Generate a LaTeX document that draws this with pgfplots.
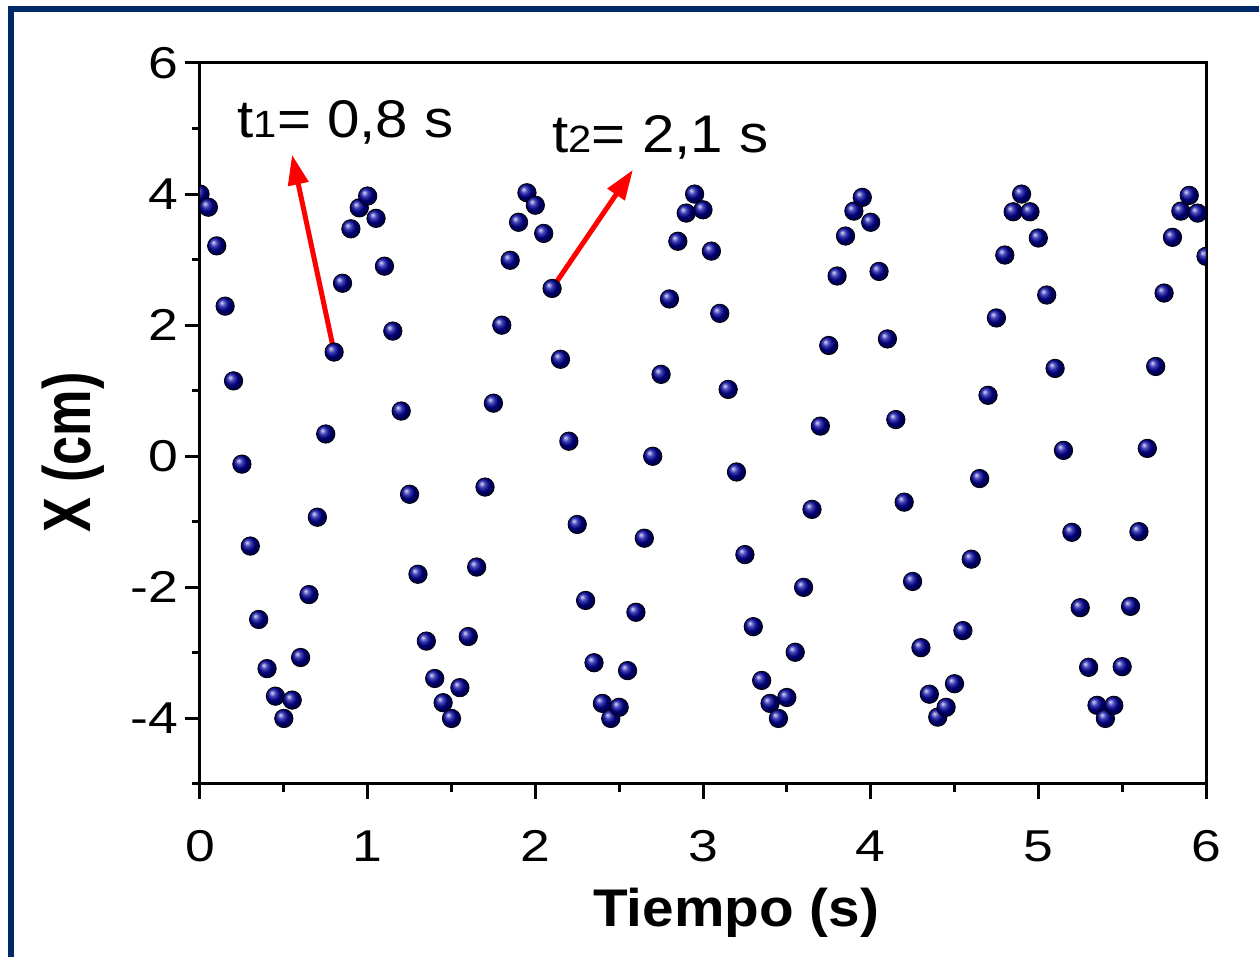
\documentclass[border=0pt]{standalone}
\usepackage{pgfplots}
\pgfplotsset{compat=1.18}
\usepackage{fontspec}
\setmainfont{Liberation Sans}
\newfontfamily\tickfont[FakeStretch=1.2]{Liberation Sans}
\newfontfamily\annfont[FakeStretch=1.1]{Liberation Sans}
\newfontfamily\xlabfont[FakeStretch=1.07]{Liberation Sans}
\newfontfamily\ylabfont[FakeStretch=0.78]{Liberation Sans}
\usetikzlibrary{arrows.meta}

\definecolor{framecol}{RGB}{0,40,104}
\definecolor{ballcol}{RGB}{0,0,160}

\begin{document}
\begin{tikzpicture}
  \useasboundingbox (0,0) rectangle (629.5pt,478.5pt);
  \draw[line width=3pt, framecol] (5.5pt,-3pt) -- (5.5pt,474pt) -- (633pt,474pt);

  \begin{axis}[
    at={(100pt,86.5pt)}, anchor=south west,
    scale only axis,
    width=503pt, height=360.5pt,
    xmin=0, xmax=6, ymin=-5, ymax=6,
    clip marker paths=true,
    axis line style={line width=1.5pt, black},
    xtick={0,1,2,3,4,5,6},
    xticklabels={0,1,2,3,4,5,6},
    ytick={-4,-2,0,2,4,6},
    yticklabels={-4,-2,0,2,4,6},
    minor xtick={0.5,1.5,2.5,3.5,4.5,5.5},
    minor ytick={-5,-3,-1,1,3,5},
    xtick pos=bottom, ytick pos=left,
    tick align=outside,
    major tick length=7.5pt, minor tick length=4pt,
    every tick/.style={line width=1.5pt, black},
    xticklabel style={font=\tickfont\fontsize{22.3}{26}\selectfont, anchor=base, yshift=-31.5pt},
    yticklabel style={font=\tickfont\fontsize{22.3}{26}\selectfont, anchor=east},
    xlabel={Tiempo (s)},
    xlabel style={font=\xlabfont\bfseries\fontsize{26.5}{30}\selectfont,
                  at={(axis description cs:0.533,-0.1983)}, anchor=base},
    ylabel={X (cm)},
    ylabel style={font=\ylabfont\bfseries\fontsize{33.5}{36}\selectfont,
                  at={(axis description cs:-0.1262,0.46)}, anchor=center, rotate=0},
  ]

    % annotations
    \draw[red, line width=2.5pt, -{Triangle[length=15pt,width=10pt]}]
      (axis cs:0.8,1.59) -- (axis cs:0.549,4.60);
    \draw[red, line width=2.5pt, -{Triangle[length=15pt,width=10pt]}]
      (axis cs:2.1,2.56) -- (axis cs:2.582,4.37);
    \node[anchor=base west, inner sep=0pt, font=\annfont\fontsize{26.5}{30}\selectfont]
      at (axis cs:0.222,4.87) {t{\fontsize{19}{22}\selectfont 1}= 0,8 s};
    \node[anchor=base west, inner sep=0pt, font=\annfont\fontsize{26.5}{30}\selectfont]
      at (axis cs:2.100,4.64) {t{\fontsize{19}{22}\selectfont 2}= 2,1 s};

    \addplot[only marks, mark=ball, mark size=4.6pt,
             mark options={ball color=ballcol}]
      coordinates {
        (0.00,4.00)(0.05,3.80)(0.10,3.21)(0.15,2.29)(0.20,1.15)
        (0.25,-0.12)(0.30,-1.37)(0.35,-2.49)(0.40,-3.24)(0.45,-3.66)
        (0.50,-4.00)(0.55,-3.72)(0.60,-3.07)(0.65,-2.11)(0.70,-0.93)
        (0.75,0.34)(0.80,1.59)(0.85,2.64)(0.90,3.47)(0.95,3.79)
        (1.00,3.97)(1.05,3.63)(1.10,2.90)(1.15,1.91)(1.20,0.69)
        (1.25,-0.58)(1.30,-1.80)(1.35,-2.82)(1.40,-3.39)(1.45,-3.76)
        (1.50,-4.00)(1.55,-3.53)(1.60,-2.75)(1.65,-1.69)(1.70,-0.47)
        (1.75,0.81)(1.80,2.00)(1.85,2.99)(1.90,3.57)(1.95,4.02)
        (2.00,3.83)(2.05,3.40)(2.10,2.56)(2.15,1.48)(2.20,0.23)
        (2.25,-1.04)(2.30,-2.20)(2.35,-3.15)(2.40,-3.77)(2.45,-4.00)
        (2.50,-3.83)(2.55,-3.27)(2.60,-2.38)(2.65,-1.25)(2.70,0.00)
        (2.75,1.25)(2.80,2.40)(2.85,3.28)(2.90,3.71)(2.95,4.00)
        (3.00,3.76)(3.05,3.13)(3.10,2.18)(3.15,1.02)(3.20,-0.24)
        (3.25,-1.50)(3.30,-2.60)(3.35,-3.42)(3.40,-3.77)(3.45,-4.00)
        (3.50,-3.68)(3.55,-2.99)(3.60,-2.00)(3.65,-0.81)(3.70,0.46)
        (3.75,1.69)(3.80,2.75)(3.85,3.36)(3.90,3.74)(3.95,3.95)
        (4.00,3.57)(4.05,2.82)(4.10,1.79)(4.15,0.56)(4.20,-0.70)
        (4.25,-1.91)(4.30,-2.92)(4.35,-3.63)(4.40,-3.98)(4.45,-3.83)
        (4.50,-3.47)(4.55,-2.66)(4.60,-1.57)(4.65,-0.34)(4.70,0.93)
        (4.75,2.11)(4.80,3.07)(4.85,3.73)(4.90,4.00)(4.95,3.73)
        (5.00,3.33)(5.05,2.46)(5.10,1.34)(5.15,0.09)(5.20,-1.16)
        (5.25,-2.31)(5.30,-3.22)(5.35,-3.80)(5.40,-4.00)(5.45,-3.80)
        (5.50,-3.21)(5.55,-2.29)(5.60,-1.15)(5.65,0.12)(5.70,1.37)
        (5.75,2.49)(5.80,3.34)(5.85,3.74)(5.90,3.98)(5.95,3.71)
        (6.00,3.05)
      };
  \end{axis}
\end{tikzpicture}
\end{document}
